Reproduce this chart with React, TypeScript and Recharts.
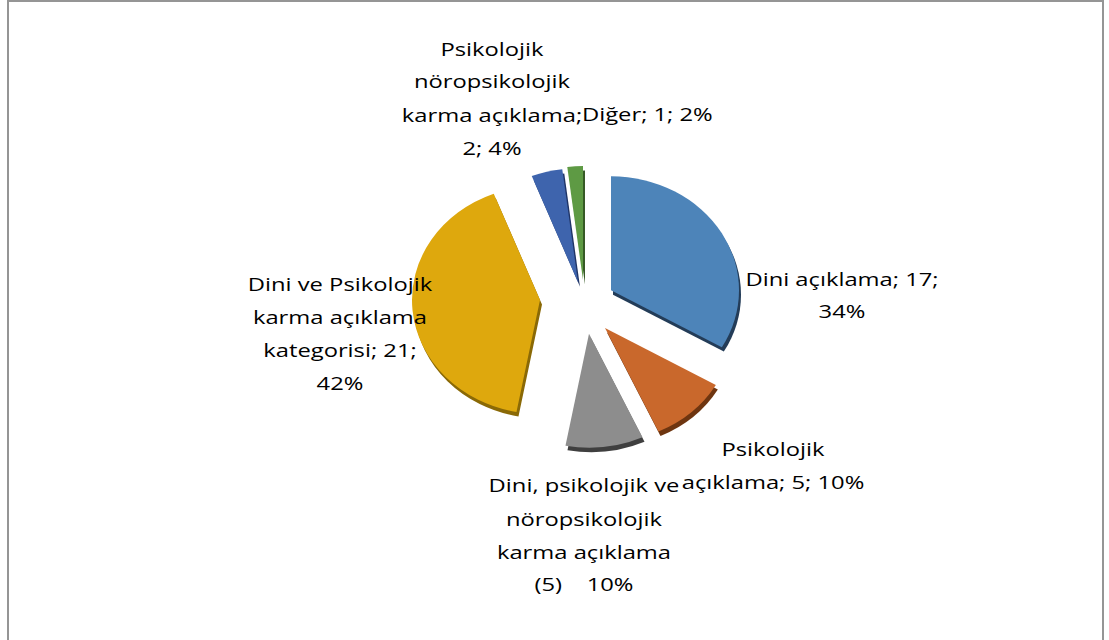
import React from 'react';
import { Cell, Pie, PieChart } from 'recharts';

// kategori adları, değerler ve yüzde etiketleri
const names = [
  'Dini açıklama',
  'Psikolojik açıklama',
  'Dini, psikolojik ve nöropsikolojik karma açıklama',
  'Dini ve Psikolojik karma açıklama kategorisi',
  'Psikolojik nöropsikolojik karma açıklama',
  'Diğer',
];
const values = [17, 5, 5, 21, 2, 1];
const labelLines = [
  ['Dini açıklama; 17;', '34%'],
  ['Psikolojik', 'açıklama; 5; 10%'],
  ['Dini, psikolojik ve', 'nöropsikolojik', 'karma açıklama', '(5)    10%'],
  ['Dini ve Psikolojik', 'karma açıklama', 'kategorisi; 21;', '42%'],
  ['Psikolojik', 'nöropsikolojik', 'karma açıklama;', '2; 4%'],
  ['Diğer; 1; 2%'],
];

const colors = ['#4d84b9', '#c9682c', '#8d8d8d', '#dea80d', '#3e64ad', '#5e9a44'];
const edgeColors = ['#233c58', '#6e3510', '#3f3f3f', '#8a6906', '#1f3466', '#365a26'];

// layout: explode offsets, label spots
const CX = 590;
const CY = 300;
const R = 128;
const SQUASH = 0.89;
const explode = [
  { x: 21, y: -11 },
  { x: 15, y: 31.5 },
  { x: -1, y: 38 },
  { x: -50, y: 0 },
  { x: -12, y: -20 },
  { x: -7, y: -22.5 },
];
const labelPos = [
  { x: 842, y: 278, anchor: 'middle' },
  { x: 773, y: 448, anchor: 'middle' },
  { x: 584, y: 485, anchor: 'middle' },
  { x: 340, y: 283, anchor: 'middle' },
  { x: 492, y: 48, anchor: 'middle' },
  { x: 582, y: 113, anchor: 'start' },
];
const LINE = 33;
const STRETCH = 1.25; // yazı yatay olarak geniş

const data = names.map((name, i) => ({ name, value: values[i] }));

const renderLabel = (props: any) => {
  const i = props.index;
  const p = labelPos[i];
  return (
    <text
      key={`lbl-${i}`}
      x={p.x}
      y={p.y}
      textAnchor={p.anchor as any}
      transform={`matrix(${STRETCH},0,0,1,${p.x * (1 - STRETCH)},0)`}
      fontFamily="'Open Sans', 'Noto Sans', sans-serif"
      fontSize={19}
      fill="#000"
      style={{ whiteSpace: 'pre' }}
    >
      {labelLines[i].map((line, k) => (
        <tspan key={k} x={p.x} y={p.y + k * LINE} dominantBaseline="central">
          {line}
        </tspan>
      ))}
    </text>
  );
};

export default function App() {
  return (
    <div style={{ position: 'absolute', left: 0, top: 0, width: 1109, height: 640, background: '#fff' }}>
      <style>{`
        .squash {
          transform-box: view-box;
          transform-origin: ${CX}px ${CY}px;
          transform: scale(1, ${SQUASH});
        }
        .squash .squash { transform: none; }
      `}</style>
      <div
        style={{
          position: 'absolute',
          left: 7,
          top: 0,
          width: 1097,
          height: 700,
          border: '2px solid #959595',
          boxSizing: 'border-box',
        }}
      />
      <div style={{ position: 'absolute', left: 0, top: 0 }}>
        <PieChart width={1109} height={640} margin={{ top: 0, right: 0, bottom: 0, left: 0 }}>
          {/* kalınlık (3B kenar) */}
          {data.map((_, i) => (
            <Pie
              key={`edge-${i}`}
              className="squash"
              data={data}
              dataKey="value"
              cx={CX + explode[i].x + 2}
              cy={CY + explode[i].y + 5}
              outerRadius={R}
              startAngle={90}
              endAngle={-270}
              stroke="none"
              isAnimationActive={false}
              labelLine={false}
            >
              {data.map((__, j) => (
                <Cell key={j} fill={j === i ? edgeColors[i] : 'none'} />
              ))}
            </Pie>
          ))}
          {data.map((_, i) => (
            <Pie
              key={`main-${i}`}
              className="squash"
              data={data}
              dataKey="value"
              cx={CX + explode[i].x}
              cy={CY + explode[i].y}
              outerRadius={R}
              startAngle={90}
              endAngle={-270}
              stroke="none"
              isAnimationActive={false}
              labelLine={false}
            >
              {data.map((__, j) => (
                <Cell key={j} fill={j === i ? colors[i] : 'none'} />
              ))}
            </Pie>
          ))}
          <Pie
            data={data}
            dataKey="value"
            cx={CX}
            cy={CY}
            outerRadius={R}
            startAngle={90}
            endAngle={-270}
            stroke="none"
            fill="none"
            isAnimationActive={false}
            labelLine={false}
            label={renderLabel}
          >
            {data.map((__, j) => (
              <Cell key={j} fill="none" />
            ))}
          </Pie>
        </PieChart>
      </div>
    </div>
  );
}
